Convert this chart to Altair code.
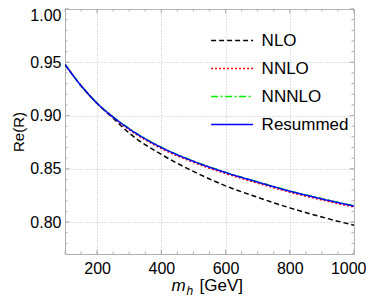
import altair as alt
import pandas as pd

# ---------------- data ----------------
mh = [100, 150, 200, 250, 300, 400, 500, 600, 700, 800, 900, 1000]
nlo = [0.948, 0.928, 0.9113, 0.8975, 0.8835, 0.8635, 0.8475, 0.834, 0.8232, 0.8133, 0.8047, 0.797]
nnlo = [0.948, 0.928, 0.9113, 0.8980, 0.8867, 0.8690, 0.8560, 0.8455, 0.8365, 0.8280, 0.8207, 0.8140]
nnnlo = [0.948, 0.928, 0.9115, 0.8987, 0.8877, 0.8703, 0.8573, 0.8468, 0.8378, 0.8293, 0.8220, 0.8153]
resummed = [0.948, 0.928, 0.9115, 0.8985, 0.8875, 0.8700, 0.8570, 0.8465, 0.8375, 0.8290, 0.8217, 0.8150]

series_names = ["NLO", "NNLO", "NNNLO", "Resummed"]
series_colors = ["#000000", "#ff0000", "#00ee00", "#0000ff"]
series_dash = [[5, 3], [2, 2], [7, 2.5, 2, 2.5], [1, 0]]
series_width = [1.5, 1.5, 1.5, 2.0]

x_major = [200, 400, 600, 800, 1000]
x_minor = [100, 150, 200, 250, 300, 350, 400, 450, 500, 550, 600, 650, 700, 750, 800, 850, 900, 950, 1000]
y_major = [0.80, 0.85, 0.90, 0.95, 1.00]
y_minor = [0.77, 0.78, 0.79, 0.80, 0.81, 0.82, 0.83, 0.84, 0.85, 0.86, 0.87, 0.88, 0.89,
           0.90, 0.91, 0.92, 0.93, 0.94, 0.95, 0.96, 0.97, 0.98, 0.99, 1.00]

x_domain = [100, 1000]
y_domain = [0.77, 1.00]

W, H = 289, 245
FONT = "Liberation Sans"
FRAME = "#b0b0b0"

rows = []
for name, vals in zip(series_names, [nlo, nnlo, nnnlo, resummed]):
    for m, v in zip(mh, vals):
        rows.append({"mh": m, "R": v, "series": name})
df = pd.DataFrame(rows)

xs = alt.Scale(domain=x_domain, nice=False, zero=False)
ys = alt.Scale(domain=y_domain, nice=False, zero=False)

x_axis = alt.Axis(values=x_major, ticks=False, domain=False, grid=True, format="d",
                  gridDash=[1, 2], gridColor="#c0c0c0", title=None,
                  labelFontSize=16, labelFont=FONT, labelColor="#000000",
                  labelPadding=6, labelFlush=True, labelFlushOffset=12)
y_axis = alt.Axis(values=y_major, ticks=False, domain=False, grid=True,
                  gridDash=[1, 2], gridColor="#c0c0c0", format=".2f",
                  labelFontSize=16, labelFont=FONT, labelColor="#000000",
                  labelPadding=4, labelFlush=True, labelFlushOffset=1.5,
                  title="Re(R)", titleFontSize=15, titleFont=FONT,
                  titleFontWeight="normal", titleColor="#000000", titlePadding=3)

legend = alt.Legend(orient="none", legendX=157.6, legendY=22, title=None,
                    symbolType="M-2.5,0L2.5,0", symbolSize=282, symbolStrokeWidth=1.6,
                    labelFontSize=17, labelFont=FONT, labelColor="#000000",
                    labelOffset=20, rowPadding=10, padding=0, labelLimit=300)

color = alt.Color("series:N", scale=alt.Scale(domain=series_names, range=series_colors), legend=legend)
dash = alt.StrokeDash("series:N", scale=alt.Scale(domain=series_names, range=series_dash), legend=legend)
width = alt.StrokeWidth("series:N", scale=alt.Scale(domain=series_names, range=series_width), legend=None)

layers = []
for name in series_names:
    layers.append(
        alt.Chart(df).transform_filter(alt.datum.series == name)
        .mark_line(interpolate="monotone", clip=True)
        .encode(x=alt.X("mh:Q", scale=xs, axis=x_axis),
                y=alt.Y("R:Q", scale=ys, axis=y_axis),
                color=color, strokeDash=dash, strokeWidth=width)
    )


def xticks(vals, length, top):
    d = pd.DataFrame({"v": vals})
    y0, y1 = (0, length) if top else (H, H - length)
    return alt.Chart(d).mark_rule(color=FRAME, strokeWidth=1).encode(
        x=alt.X("v:Q", scale=xs, axis=x_axis), y=alt.value(y0), y2=alt.value(y1))


def yticks(vals, length, right):
    d = pd.DataFrame({"v": vals})
    x0, x1 = (W, W - length) if right else (0, length)
    return alt.Chart(d).mark_rule(color=FRAME, strokeWidth=1).encode(
        y=alt.Y("v:Q", scale=ys, axis=y_axis), x=alt.value(x0), x2=alt.value(x1))


tick_layers = [
    xticks(x_minor, 2.5, False), xticks(x_major, 4.5, False),
    xticks(x_minor, 2.5, True), xticks(x_major, 4.5, True),
    yticks(y_minor, 2.5, False), yticks(y_major, 4.5, False),
    yticks(y_minor, 2.5, True), yticks(y_major, 4.5, True),
]

title_m = alt.Chart(pd.DataFrame({"t": ["m"]})).mark_text(
    font=FONT, fontSize=17, fontStyle="italic", align="left", baseline="alphabetic",
    color="#000000").encode(text="t:N", x=alt.value(106.5), y=alt.value(282))
title_h = alt.Chart(pd.DataFrame({"t": ["h"]})).mark_text(
    font=FONT, fontSize=12, fontStyle="italic", align="left", baseline="alphabetic",
    color="#000000").encode(text="t:N", x=alt.value(121.5), y=alt.value(285.5))
title_gev = alt.Chart(pd.DataFrame({"t": ["[GeV]"]})).mark_text(
    font=FONT, fontSize=17, align="left", baseline="alphabetic",
    color="#000000").encode(text="t:N", x=alt.value(134.5), y=alt.value(282))

chart = alt.layer(*layers, *tick_layers, title_m, title_h, title_gev).properties(
    width=W, height=H,
    autosize=alt.AutoSizeParams(type="none"),
    padding={"left": 57, "top": 1, "right": 12, "bottom": 44},
).configure_view(stroke=FRAME, strokeWidth=1)

chart.save("out.html", embed_options={"renderer": "svg", "actions": False})
